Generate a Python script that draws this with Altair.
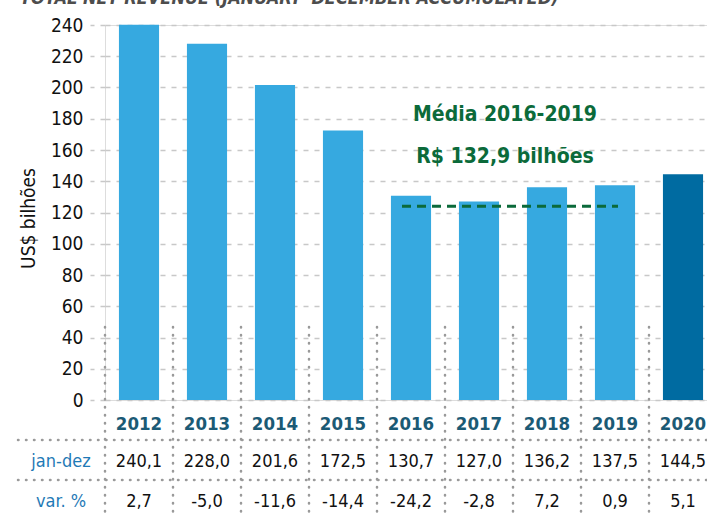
import altair as alt
import pandas as pd

years = ["2012", "2013", "2014", "2015", "2016", "2017", "2018", "2019", "2020"]
revenue = [240.1, 228.0, 201.6, 172.5, 130.7, 127.0, 136.2, 137.5, 144.5]
revenue_lbl = ["240,1", "228,0", "201,6", "172,5", "130,7", "127,0", "136,2", "137,5", "144,5"]
var_lbl = ["2,7", "-5,0", "-11,6", "-14,4", "-24,2", "-2,8", "7,2", "0,9", "5,1"]
highlight = [False] * 8 + [True]
y_ticks = [0, 20, 40, 60, 80, 100, 120, 140, 160, 180, 200, 220, 240]
row_labels = ["jan-dez", "var. %"]
mean_start, mean_end, mean_level = "2016", "2019", 124
annot_lines = ["Média 2016-2019", "R$ 132,9 bilhões"]
title_text = "TOTAL NET REVENUE (JANUARY- DECEMBER ACCUMULATED)"

FONT = "Liberation Sans Narrow, DejaVu Sans Condensed, Roboto, sans-serif"
W, H = 602, 375

df = pd.DataFrame({"year": years, "rev": revenue, "rev_lbl": revenue_lbl,
                   "var_lbl": var_lbl, "hl": highlight})

xscale = alt.Scale(domain=years, range=[0, 612], paddingInner=0.41, paddingOuter=0.205)
yscale = alt.Scale(domain=[0, 240], nice=False)


def pscale(dom, rng):
    return alt.Scale(type="point", domain=dom, range=rng, padding=0)


base = alt.Chart(df)

bars = base.mark_bar().encode(
    x=alt.X("year:N", scale=xscale, sort=years,
            axis=alt.Axis(title=None, orient="bottom", domain=False, ticks=False,
                          labelAngle=0, labelFont=FONT, labelFontSize=18.5,
                          labelFontWeight="bold", labelColor="#1b5a75",
                          labelPadding=14, grid=False)),
    y=alt.Y("rev:Q", scale=yscale,
            axis=alt.Axis(title="US$ bilhões", values=y_ticks, domain=False,
                          grid=True, gridDash=[5, 6], gridColor="#c8c8c8", gridWidth=1.5,
                          ticks=True, tickSize=15, tickDash=[5, 6], tickColor="#c8c8c8",
                          tickWidth=1.5, labelPadding=7, labelFont=FONT,
                          labelFontSize=19, labelColor="#111111",
                          titleFont=FONT, titleFontSize=19, titleFontWeight="normal",
                          titleColor="#111111", titleX=-77, titleY=193,
                          titleAngle=270, titleAlign="center", titleBaseline="middle")),
    color=alt.Color("hl:N", scale=alt.Scale(domain=[False, True],
                                             range=["#36a9e0", "#006ba1"]), legend=None),
)

vlines = base.mark_rule(color="#9a9a9a", strokeWidth=2.5, strokeDash=[0.5, 7.5],
                        strokeCap="round", xOffset=-34).encode(
    x=alt.X("year:N", scale=xscale, sort=years),
    y=alt.value(302), y2=alt.value(495),
)

hl_df = pd.DataFrame({"row": row_labels})
hlines = alt.Chart(hl_df).mark_rule(color="#9a9a9a", strokeWidth=2.5,
                                    strokeDash=[0.5, 7.5], strokeCap="round").encode(
    x=alt.value(-87), x2=alt.value(W),
    y=alt.Y("row:N", scale=pscale(row_labels, [415, 455]), axis=None),
)

val_text = base.mark_text(font=FONT, fontSize=18, color="#111111").encode(
    x=alt.X("year:N", scale=xscale, sort=years),
    y=alt.value(437), text="rev_lbl:N")
var_text = base.mark_text(font=FONT, fontSize=18, color="#111111").encode(
    x=alt.X("year:N", scale=xscale, sort=years),
    y=alt.value(477), text="var_lbl:N")

row_text = alt.Chart(hl_df).mark_text(font=FONT, fontSize=18, color="#1f7ab6").encode(
    x=alt.value(-44),
    y=alt.Y("row:N", scale=pscale(row_labels, [437, 477]), axis=None),
    text="row:N")

mean_df = pd.DataFrame({"s": [mean_start], "e": [mean_end], "v": [mean_level]})
mean_line = alt.Chart(mean_df).mark_rule(color="#0b6a3a", strokeWidth=3,
                                         strokeDash=[9, 6], xOffset=-9, x2Offset=3).encode(
    x=alt.X("s:N", scale=xscale), x2="e:N",
    y=alt.Y("v:Q", scale=yscale, axis=None))

ann_df = pd.DataFrame({"t": annot_lines})
annot = alt.Chart(ann_df).mark_text(font=FONT, fontSize=21, fontWeight="bold",
                                    color="#0b6a3a").encode(
    x=alt.value(400),
    y=alt.Y("t:N", scale=pscale(annot_lines, [90, 132]), axis=None),
    text="t:N")

title_df = pd.DataFrame({"t": [title_text]})
title = alt.Chart(title_df).mark_text(font=FONT, fontSize=18, fontWeight="bold",
                                      fontStyle="italic", color="#4d4d4d",
                                      align="left", baseline="alphabetic").encode(
    x=alt.value(-85), y=alt.value(-21), text="t:N")

chart = alt.layer(bars, vlines, hlines, val_text, var_text, row_text, mean_line,
                  annot, title).resolve_scale(y="independent").properties(
    width=W, height=H,
    autosize=alt.AutoSizeParams(type="none"),
    padding={"left": 105, "top": 25, "right": 0, "bottom": 116},
).configure_view(stroke=None).configure(background="white")

chart.save("out.html", embed_options={"renderer": "svg", "actions": False})
